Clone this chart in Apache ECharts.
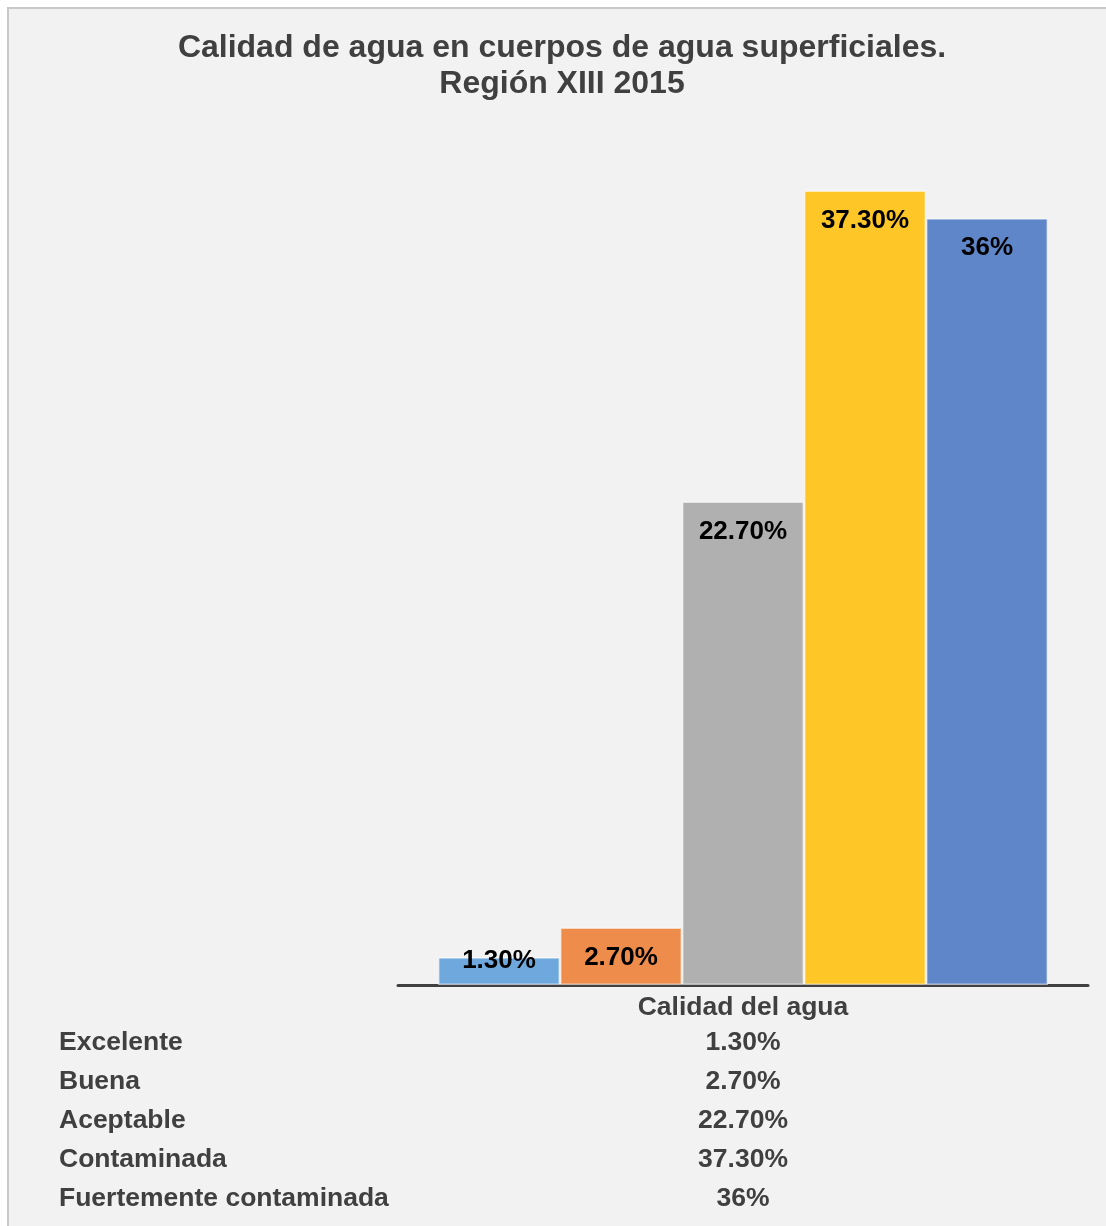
<!DOCTYPE html>
<html>
<head>
<meta charset="utf-8">
<script src="https://cdn.jsdelivr.net/npm/echarts@6/dist/echarts.min.js"></script>
<style>
html,body{margin:0;padding:0;background:#fff;overflow:hidden;}
#frame{position:absolute;left:7px;top:7px;width:1120px;height:1240px;background:#f2f2f2;border:2px solid #c8c8c8;}
#main{position:absolute;left:0;top:0;width:1106px;height:1226px;}
</style>
</head>
<body>
<div id="frame"></div>
<div id="main"></div>
<script>
const titleLines = ['Calidad de agua en cuerpos de agua superficiales.', 'Región XIII 2015'];
const category = ['Calidad del agua'];
const seriesNames = ['Excelente', 'Buena', 'Aceptable', 'Contaminada', 'Fuertemente contaminada'];
const seriesValues = [1.3, 2.7, 22.7, 37.3, 36];
const valueLabels = ['1.30%', '2.70%', '22.70%', '37.30%', '36%'];
const colors = ['#6fa8dc', '#ee8c4b', '#b0b0b0', '#fec627', '#5f86c8'];

const FONT = '"Liberation Sans", Arial, sans-serif';
const chart = echarts.init(document.getElementById('main'), null, {renderer: 'canvas'});

const series = seriesNames.map((name, i) => ({
  type: 'bar',
  name: name,
  data: [seriesValues[i]],
  barWidth: 122,
  barGap: '0%',
  itemStyle: {color: colors[i], borderColor: 'rgba(255,255,255,0.55)', borderWidth: 1.5},
  label: {
    show: true,
    position: i === 0 ? 'insideBottom' : 'insideTop',
    distance: i === 0 ? 11 : 17,
    formatter: () => valueLabels[i],
    color: '#000',
    fontFamily: FONT,
    fontWeight: 'bold',
    fontSize: 26
  }
}));

const graphics = [];
titleLines.forEach((t, i) => {
  graphics.push({type: 'text', x: 562, y: 48 + i * 36, style: {text: t, fill: '#404040', font: 'bold 32px ' + FONT, textAlign: 'center', textVerticalAlign: 'middle'}});
});
seriesNames.forEach((n, i) => {
  const y = 1043 + i * 39;
  graphics.push({type: 'text', x: 59, y: y, style: {text: n, fill: '#404040', font: 'bold 26.5px ' + FONT, textAlign: 'left', textVerticalAlign: 'middle'}});
  graphics.push({type: 'text', x: 743, y: y, style: {text: valueLabels[i], fill: '#404040', font: 'bold 26.5px ' + FONT, textAlign: 'center', textVerticalAlign: 'middle'}});
});

chart.setOption({
  backgroundColor: 'transparent',
  animation: false,
  grid: {left: 398, right: 18, top: 133, bottom: 241, containLabel: false},
  xAxis: {
    type: 'category',
    data: category,
    axisLine: {show: true, lineStyle: {color: '#404040', width: 3}},
    axisTick: {show: false},
    axisLabel: {color: '#404040', fontFamily: FONT, fontWeight: 'bold', fontSize: 26.5, margin: 9}
  },
  yAxis: {
    type: 'value', min: 0, max: 40,
    show: false,
    splitLine: {show: false}
  },
  series: series,
  graphic: graphics
});
</script>
</body>
</html>
